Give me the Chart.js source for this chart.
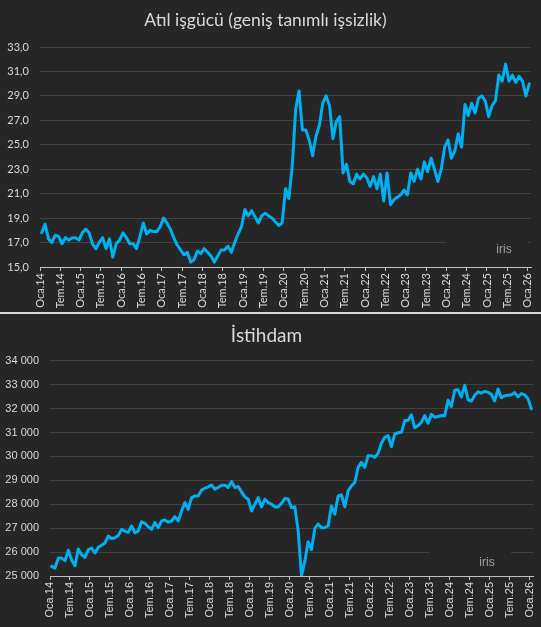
<!DOCTYPE html>
<html>
<head>
<meta charset="utf-8">
<script src="https://cdn.jsdelivr.net/npm/chart.js@4.4.1/dist/chart.umd.min.js"></script>
<style>
html, body { margin: 0; padding: 0; background: #262626; }
body { width: 541px; height: 627px; position: relative; overflow: hidden; }
canvas { position: absolute; left: 0; }
#atilChart { top: 0; }
#istihdamChart { top: 314px; }
#sep { position: absolute; left: 0; top: 312px; width: 541px; height: 2px; background: #d9d9d9; }
</style>
</head>
<body>
<canvas id="atilChart" width="541" height="312"></canvas>
<div id="sep"></div>
<canvas id="istihdamChart" width="541" height="313"></canvas>
<script>
// Ocak 2014 - Ocak 2026, aylik
const monthNames = ["Oca", "Şub", "Mar", "Nis", "May", "Haz", "Tem", "Ağu", "Eyl", "Eki", "Kas", "Ara"];
const months = [];
for (var yr = 2014; yr <= 2026; yr++) {
    for (var m = 0; m < 12; m++) {
        if (months.length < 145) months.push(monthNames[m] + "." + String(yr).slice(2));
    }
}

// Atil isgucu orani (%)
const atilIsgucu = [
    17.8, 18.5, 17.3, 17.0, 17.6, 17.5, 16.9, 17.4, 17.2, 17.4, 17.4, 17.2,
    17.8, 18.1, 17.8, 16.9, 16.5, 17.0, 17.4, 16.5, 17.3, 15.8, 16.9, 17.2,
    17.8, 17.4, 16.9, 16.9, 16.5, 17.5, 18.6, 17.7, 18.0, 17.9, 17.9, 18.3,
    19.0, 18.6, 18.1, 17.4, 16.8, 16.4, 16.0, 16.2, 15.4, 15.6, 16.3, 16.1,
    16.5, 16.2, 15.9, 15.4, 15.9, 16.4, 16.4, 16.7, 16.2, 17.0, 17.7, 18.3,
    19.7, 19.2, 19.6, 19.1, 18.6, 19.2, 19.4, 19.2, 19.0, 18.7, 18.4, 18.6,
    21.4, 20.6, 23.3, 27.9, 29.4, 26.2, 26.2, 25.4, 24.1, 25.7, 26.6, 28.4,
    29.0, 28.2, 25.5, 26.9, 27.3, 22.7, 23.4, 22.0, 21.8, 22.6, 22.2, 22.6,
    22.3, 21.6, 22.4, 21.4, 22.6, 20.4, 22.7, 20.1, 20.5, 20.7, 20.9, 21.3,
    20.9, 22.7, 22.0, 23.0, 22.2, 23.6, 22.8, 23.9, 23.0, 22.0, 23.0, 24.8,
    25.4, 23.9, 24.5, 25.9, 24.8, 28.3, 27.4, 28.4, 27.6, 28.8, 29.0, 28.6,
    27.3, 28.2, 28.6, 30.7, 30.2, 31.6, 30.2, 30.7, 30.1, 30.6, 30.2, 29.0,
    30.0
];

// Istihdam (bin kisi)
const istihdam = [
    25400, 25330, 25750, 25750, 25640, 26080, 25660, 25430, 26130, 25890, 25780, 26100,
    26170, 25960, 26200, 26290, 26380, 26670, 26570, 26600, 26690, 26950, 26880, 26830,
    27090, 26810, 26880, 27270, 27200, 27060, 26950, 27230, 27020, 27300, 27340, 27250,
    27300, 27480, 27300, 27720, 28070, 27790, 28280, 28350, 28350, 28590, 28670, 28730,
    28800, 28630, 28700, 28800, 28800, 28700, 28950, 28700, 28740, 28520, 28310, 28210,
    27720, 28000, 28280, 27890, 28210, 28070, 28000, 27890, 27890, 28040, 28240, 28210,
    27860, 27890, 26900, 25000, 25610, 26430, 26100, 26990, 27180, 27020, 27020, 27090,
    27930, 27580, 28350, 28390, 27890, 28560, 28770, 28910, 29540, 29750, 29540, 30030,
    30030, 29960, 30130, 30550, 30800, 30870, 30410, 30940, 30990, 31010, 31500, 31500,
    31740, 31200, 31290, 31430, 31710, 31390, 31760, 31640, 31670, 31710, 31700, 32350,
    32090, 32770, 32790, 32490, 32980, 32370, 32320, 32560, 32700, 32650, 32720, 32680,
    32600, 32320, 32820, 32460, 32540, 32560, 32580, 32670, 32490, 32630, 32570, 32420,
    31990
];

const atilTicks = { min: 15, max: 33, step: 2 };
const istihdamTicks = { min: 25000, max: 34000, step: 1000 };

const bgColor = "#262626";
const lineColor = "#00b0f0";
const textColor = "#d9d9d9";
const gridColor = "#424242";
const axisColor = "#bfbfbf";

// "iris" filigrani, arkasinda zemin renginde kutu
const irisMark = {
    id: "irisMark",
    beforeDatasetsDraw(chart, args, opts) {
        const ctx = chart.ctx;
        ctx.save();
        ctx.fillStyle = bgColor;
        ctx.fillRect(opts.bx, opts.by, opts.bw, opts.bh);
        ctx.fillStyle = "#a0a0a0";
        ctx.font = "12px 'Liberation Sans'";
        ctx.textAlign = "center";
        ctx.textBaseline = "middle";
        ctx.fillText("iris", opts.tx, opts.ty);
        ctx.restore();
    }
};

function toPoints(values) {
    // ay ortasina yerlesir (Excel "tik isaretleri arasinda")
    return values.map((v, i) => ({ x: i + 0.5, y: v }));
}

function makeChart(canvasId, title, values, yTicks, cfg) {
    return new Chart(canvasId, {
        type: "line",
        data: {
            datasets: [{
                data: toPoints(values),
                borderColor: lineColor,
                backgroundColor: lineColor,
                borderWidth: 3,
                pointRadius: 0,
                tension: 0,
                fill: false,
                borderJoinStyle: "round",
                borderCapStyle: "round"
            }]
        },
        options: {
            responsive: false,
            animation: false,
            layout: { padding: { left: 0, right: cfg.rightPad, top: 0, bottom: 0 } },
            plugins: {
                legend: { display: false },
                tooltip: { enabled: false },
                title: {
                    display: true,
                    text: title,
                    color: textColor,
                    font: { family: "Lato", size: cfg.titleSize, weight: "normal" },
                    padding: { top: cfg.titleTop, bottom: 47 - cfg.titleTop - Math.round(cfg.titleSize * 1.2) }
                },
                irisMark: cfg.iris
            },
            scales: {
                x: {
                    type: "linear",
                    min: 0,
                    max: months.length,
                    afterFit: function (s) { s.height = cfg.xHeight; s.paddingLeft = 0; s.paddingRight = 0; },
                    grid: { drawOnChartArea: false, drawTicks: true, tickLength: 4, tickColor: axisColor },
                    border: { display: true, color: axisColor, width: 1 },
                    ticks: {
                        stepSize: 6,
                        includeBounds: false,
                        autoSkip: false,
                        minRotation: 90,
                        maxRotation: 90,
                        padding: 2,
                        color: textColor,
                        font: { family: cfg.tickFont, size: 11 },
                        callback: function (v) { return months[v]; }
                    }
                },
                y: {
                    min: yTicks.min,
                    max: yTicks.max,
                    afterFit: function (s) { s.width = cfg.yWidth; s.paddingTop = 0; s.paddingBottom = 0; },
                    grid: { color: gridColor, lineWidth: 1, drawTicks: false },
                    border: { display: false },
                    ticks: {
                        stepSize: yTicks.step,
                        padding: 11,
                        color: textColor,
                        font: { family: cfg.tickFont, size: 11 },
                        callback: cfg.fmt
                    }
                }
            }
        },
        plugins: [irisMark]
    });
}

makeChart("atilChart", "Atıl işgücü (geniş tanımlı işsizlik)", atilIsgucu, atilTicks, {
    rightPad: 10,
    xHeight: 45,
    yWidth: 40,
    titleSize: 17.5,
    titleTop: 10,
    tickFont: "Lato",
    fmt: function (v) { return v.toFixed(1).replace(".", ","); },
    iris: { bx: 446, by: 232, bw: 82, bh: 30, tx: 504, ty: 250 }
});

makeChart("istihdamChart", "İstihdam", istihdam, istihdamTicks, {
    rightPad: 8,
    xHeight: 51,
    yWidth: 50,
    titleSize: 19,
    titleTop: 10,
    tickFont: "Liberation Sans",
    fmt: function (v) { return String(v).replace(/\B(?=(\d{3})+(?!\d))/g, " "); },
    iris: { bx: 429, by: 227, bw: 82, bh: 30, tx: 487, ty: 249 }
});
</script>
</body>
</html>
